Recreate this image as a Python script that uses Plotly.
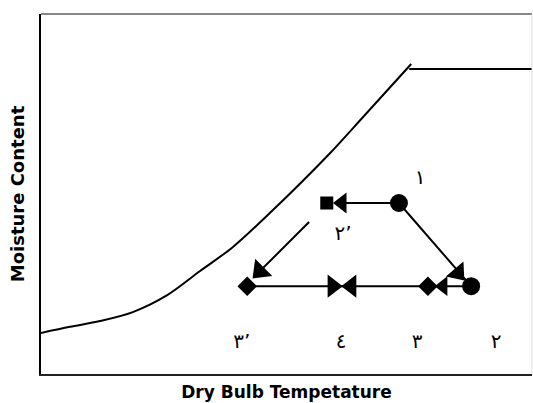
import plotly.graph_objects as go

# Saturation curve (dry bulb temp vs moisture content)
sat_x = [0, 5.9, 12.0, 18.7, 25.7, 32.4, 39.1, 46.6, 58.9, 65.6, 75.4]
sat_y = [11.4, 13.1, 14.7, 17.2, 21.9, 28.6, 35.3, 44.7, 61.4, 71.4, 86.1]
flat_x = [75.0, 100]
flat_y = [84.7, 84.7]

# Process state points
p1 = (72.9, 47.5)    # ١ circle
p2p = (58.2, 47.5)   # ٢’ square
p2 = (87.6, 24.4)    # ٢ circle
p3 = (78.8, 24.4)    # ٣ diamond
p3p = (42.0, 24.4)   # ٣’ diamond
p23_start = (54.6, 42.2)  # start of 2'->3' line

# Arrowhead positions
arrow_top = (61.3, 47.5)
arrow_diag = (84.9, 28.1)
arrow_b3 = (81.9, 24.4)
arrow_b4l = (63.2, 24.4)
arrow_b4r = (59.4, 24.4)
arrow_23 = (44.6, 28.6)

label_text = ["١", "٢’", "٣’", "٤", "٣", "٢"]
label_x = [77.2, 61.5, 40.9, 61.1, 76.6, 92.7]
label_y = [54.2, 38.7, 8.6, 8.6, 8.6, 8.6]

fig = go.Figure()
line = dict(color="black", width=2)
fig.add_trace(go.Scatter(x=sat_x, y=sat_y, mode="lines",
                         line=dict(color="black", width=2, shape="spline", smoothing=0.9)))
fig.add_trace(go.Scatter(x=flat_x, y=flat_y, mode="lines", line=line))

# process lines
fig.add_trace(go.Scatter(x=[p1[0], arrow_top[0]], y=[p1[1], arrow_top[1]], mode="lines", line=line))
fig.add_trace(go.Scatter(x=[p1[0], p2[0]], y=[p1[1], p2[1]], mode="lines", line=line))
fig.add_trace(go.Scatter(x=[p2[0], p3p[0]], y=[p2[1], p3p[1]], mode="lines", line=line))
fig.add_trace(go.Scatter(x=[p23_start[0], arrow_23[0]], y=[p23_start[1], arrow_23[1]], mode="lines", line=line))

# arrowheads oriented along their segments
def arrow(start, head, size):
    fig.add_trace(go.Scatter(
        x=[start[0], head[0]], y=[start[1], head[1]], mode="markers",
        marker=dict(symbol="triangle-up", size=[0, size], color="black", opacity=1,
                    angleref="previous", line=dict(width=0)),
    ))

arrow(p1, arrow_top, 18)
arrow(p1, arrow_diag, 20)
arrow(p2, arrow_b3, 17)
arrow(p3, arrow_b4l, 20)
arrow(p3p, arrow_b4r, 20)
arrow(p23_start, arrow_23, 21)

# state markers
fig.add_trace(go.Scatter(x=[p1[0], p2[0]], y=[p1[1], p2[1]], mode="markers",
                         marker=dict(symbol="circle", size=18, color="black")))
fig.add_trace(go.Scatter(x=[p2p[0]], y=[p2p[1]], mode="markers",
                         marker=dict(symbol="square", size=13, color="black")))
fig.add_trace(go.Scatter(x=[p3[0], p3p[0]], y=[p3[1], p3p[1]], mode="markers",
                         marker=dict(symbol="diamond", size=15, color="black")))

fig.add_trace(go.Scatter(x=label_x, y=label_y, mode="text", text=label_text,
                         textfont=dict(family="DejaVu Sans", size=20, color="black")))

fig.update_layout(
    width=533, height=403,
    margin=dict(l=41, r=1, t=14, b=29),
    paper_bgcolor="white", plot_bgcolor="white",
    showlegend=False,
    xaxis=dict(range=[0, 100], showgrid=False, zeroline=False, showticklabels=False,
               ticks="", showline=True, linecolor="#222", linewidth=2,
               title=dict(text="<b>Dry Bulb Tempetature</b>", standoff=11,
                          font=dict(family="DejaVu Sans", size=17, color="black"))),
    yaxis=dict(range=[0, 100], showgrid=False, zeroline=False, showticklabels=False,
               ticks="", showline=True, linecolor="black", linewidth=1.5,
               title=dict(text="<b>Moisture Content</b>", standoff=10,
                          font=dict(family="DejaVu Sans", size=18, color="black"))),
    shapes=[
        dict(type="line", xref="paper", yref="paper", x0=0, x1=1, y0=1, y1=1,
             line=dict(color="#888888", width=2)),
        dict(type="line", xref="paper", yref="paper", x0=1, x1=1, y0=0, y1=1,
             line=dict(color="#dddddd", width=1)),
    ],
)

fig.write_html("out.html", config={"displayModeBar": False})

# remove the default page margin so the figure sits at the window's corner
with open("out.html", "r", encoding="utf-8") as f:
    html = f.read()
html = html.replace("<body>", '<body style="margin:0;padding:0;">', 1)
with open("out.html", "w", encoding="utf-8") as f:
    f.write(html)
